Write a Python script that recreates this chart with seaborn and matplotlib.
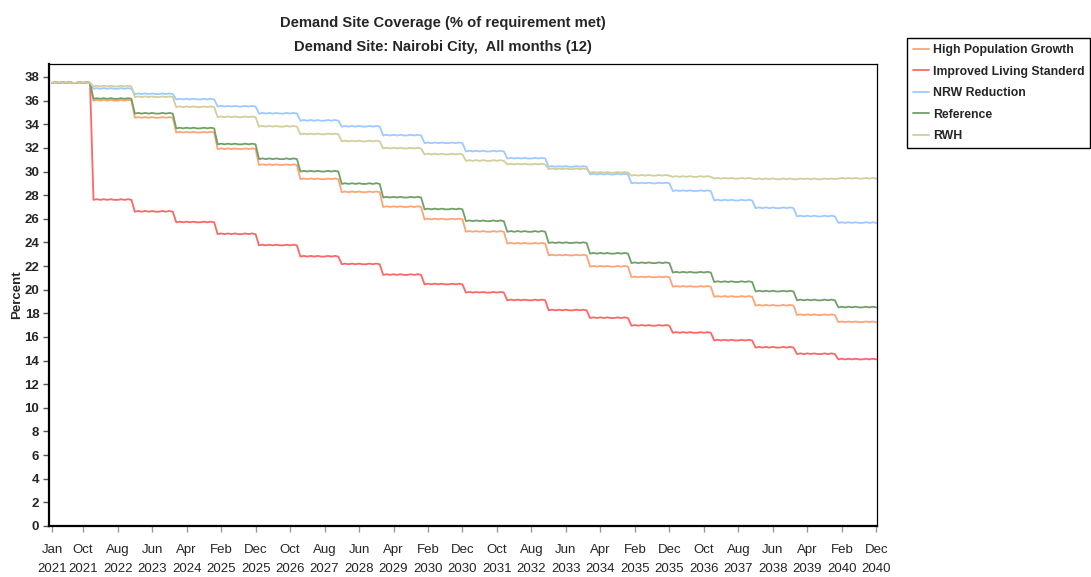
import numpy as np
import pandas as pd
import matplotlib
matplotlib.use("Agg")
import matplotlib.pyplot as plt
import seaborn as sns

# ---- data -------------------------------------------------------------
years = list(range(2021, 2041))
scenarios = ["High Population Growth", "Improved Living Standerd",
             "NRW Reduction", "Reference", "RWH"]

# yearly coverage level (% of requirement met), one value per year 2021..2040
high_population_growth = [37.5, 36.0, 34.55, 33.3, 31.9, 30.55, 29.35, 28.25, 27.0, 25.95,
                          24.9, 23.9, 22.9, 21.95, 21.05, 20.25, 19.4, 18.65, 17.85, 17.25]
improved_living_standard = [37.5, 27.6, 26.6, 25.7, 24.7, 23.75, 22.8, 22.15, 21.25, 20.45,
                            19.75, 19.1, 18.25, 17.6, 16.95, 16.35, 15.7, 15.1, 14.55, 14.1]
nrw_reduction = [37.5, 37.0, 36.55, 36.1, 35.5, 34.9, 34.3, 33.8, 33.05, 32.4,
                 31.7, 31.1, 30.4, 29.75, 29.0, 28.35, 27.55, 26.9, 26.2, 25.65]
reference = [37.5, 36.15, 34.9, 33.65, 32.3, 31.05, 30.0, 28.95, 27.8, 26.8,
             25.8, 24.9, 23.95, 23.05, 22.25, 21.45, 20.65, 19.85, 19.1, 18.5]
rwh = [37.5, 37.2, 36.3, 35.45, 34.6, 33.8, 33.15, 32.55, 31.95, 31.45,
       30.9, 30.6, 30.2, 29.9, 29.65, 29.55, 29.4, 29.35, 29.35, 29.4]

# small month-to-month variation within each year (Jan..Dec)
month_ripple = [0.0, 0.06, 0.0, 0.06, 0.0, 0.06, 0.0, 0.0, 0.06, 0.0, 0.06, 0.0]

tick_labels = ["Jan\n2021", "Oct\n2021", "Aug\n2022", "Jun\n2023", "Apr\n2024", "Feb\n2025",
               "Dec\n2025", "Oct\n2026", "Aug\n2027", "Jun\n2028", "Apr\n2029", "Feb\n2030",
               "Dec\n2030", "Oct\n2031", "Aug\n2032", "Jun\n2033", "Apr\n2034", "Feb\n2035",
               "Dec\n2035", "Oct\n2036", "Aug\n2037", "Jun\n2038", "Apr\n2039", "Feb\n2040",
               "Dec\n2040"]

colors = {
    "High Population Growth": "#FFA477",
    "Improved Living Standerd": "#FF6666",
    "NRW Reduction": "#9DCBFF",
    "Reference": "#70A068",
    "RWH": "#D2CE9E",
}

# ---- monthly long-form table ------------------------------------------
dates = pd.date_range("2021-01-01", "2040-12-01", freq="MS")
series = dict(zip(scenarios, [high_population_growth, improved_living_standard,
                              nrw_reduction, reference, rwh]))
rows = []
for name, levels in series.items():
    monthly = np.repeat(levels, 12) + np.tile(month_ripple, len(years))
    rows.append(pd.DataFrame({"month": np.arange(len(dates)), "date": dates,
                              "Percent": monthly, "scenario": name}))
df = pd.concat(rows, ignore_index=True)

# ---- style -----------------------------------------------------------
sns.set_theme(style="white")
plt.rcParams["font.family"] = ["Liberation Sans", "DejaVu Sans"]

fig = plt.figure(figsize=(10.91, 5.77), dpi=100)
ax = fig.add_axes([49 / 1091, 1 - 526 / 577, (877 - 49) / 1091, (526 - 64) / 577])

sns.lineplot(data=df, x="month", y="Percent", hue="scenario", hue_order=scenarios,
             palette=colors, linewidth=1.3, ax=ax, legend=True)

ax.set_xlim(-0.9, 239.2)
ax.set_ylim(0, 39.1)
ax.set_yticks(np.arange(0, 39, 2))
ax.set_yticklabels([str(v) for v in range(0, 39, 2)], fontsize=9.5, fontweight="bold")

tick_pos = [0] + list(range(9, 240, 10))
ax.set_xticks(tick_pos)
ax.set_xticklabels(tick_labels, fontsize=9.5, linespacing=1.75)
ax.set_xlabel("")
ax.set_ylabel("Percent", fontsize=9.5, fontweight="bold", labelpad=1)

ax.tick_params(axis="y", direction="out", length=4, width=1, color="#555555", pad=3, left=True)
ax.tick_params(axis="x", direction="out", length=4, width=1, color="#999999", pad=9, bottom=True)

for side in ["left", "bottom"]:
    ax.spines[side].set_linewidth(1.6)
    ax.spines[side].set_color("black")
for side in ["top", "right"]:
    ax.spines[side].set_linewidth(0.9)
    ax.spines[side].set_color("black")

fig.text(443 / 1091, 1 - 23 / 577, "Demand Site Coverage (% of requirement met)",
         ha="center", va="center", fontsize=10.6, fontweight="bold")
fig.text(443 / 1091, 1 - 47 / 577, "Demand Site: Nairobi City,  All months (12)",
         ha="center", va="center", fontsize=10.6, fontweight="bold")

handles, labels = ax.get_legend_handles_labels()
ax.get_legend().remove()
leg = fig.legend(handles, labels, loc="upper left",
                 bbox_to_anchor=(907 / 1091, 1 - 38 / 577), bbox_transform=fig.transFigure,
                 frameon=True, fancybox=False, edgecolor="black", framealpha=1,
                 borderaxespad=0, handlelength=1.3, handletextpad=0.3,
                 labelspacing=0.78, borderpad=0.5,
                 prop={"size": 8.8, "weight": "bold"})
leg.get_frame().set_linewidth(1.0)

fig.savefig("out.png", dpi=100, facecolor="white")
